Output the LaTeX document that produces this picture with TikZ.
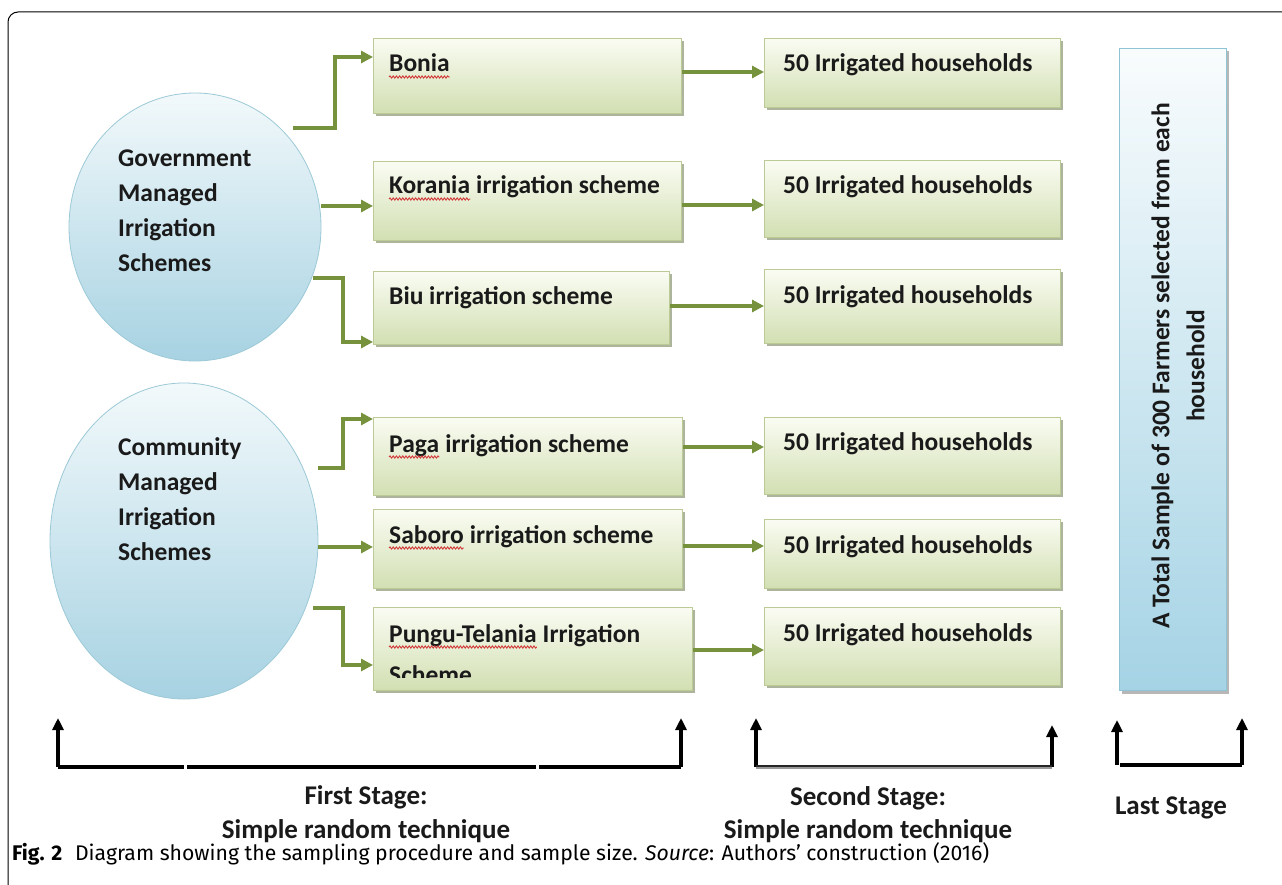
\documentclass[tikz,border=0pt]{standalone}
\usepackage{fontspec}
\setmainfont{Carlito}
\newfontfamily\capfont{Fira Sans}
\usetikzlibrary{arrows.meta,decorations.pathmorphing,shadows,shapes.geometric}
\definecolor{boxtop}{HTML}{FAFCF3}
\definecolor{boxbot}{HTML}{D2DFB2}
\definecolor{boxdraw}{HTML}{BCCB95}
\definecolor{boxshadow}{HTML}{9EA98A}
\definecolor{elltop}{HTML}{F2F9FB}
\definecolor{ellbot}{HTML}{A7D2E2}
\definecolor{elldraw}{HTML}{9CC9D7}
\definecolor{talltop}{HTML}{F9FCFD}
\definecolor{tallbot}{HTML}{A5D3E5}
\definecolor{talldraw}{HTML}{8FC4D5}
\definecolor{garr}{HTML}{76923C}
\definecolor{txt}{HTML}{1A1A1A}
\definecolor{squig}{HTML}{D23A3A}
\begin{document}
\begin{tikzpicture}[x=1pt,y=-1pt,
  gbox/.style={draw=boxdraw, line width=0.8pt, top color=boxtop, bottom color=boxbot,
    inner sep=0, anchor=north west,
    drop shadow={shadow xshift=2.5pt, shadow yshift=-3pt, fill=boxshadow, opacity=0.85}},
  ell/.style={ellipse, draw=elldraw, line width=0.8pt, top color=elltop, bottom color=ellbot, inner sep=0},
  tbox/.style={draw=talldraw, line width=1pt, top color=talltop, bottom color=tallbot,
    inner sep=0, anchor=north west,
    drop shadow={shadow xshift=2.5pt, shadow yshift=-3pt, fill=gray!70, opacity=0.8}},
  btext/.style={font=\fontsize{25.5}{30}\selectfont\bfseries, text=txt, inner sep=0, anchor=base west},
  stext/.style={font=\fontsize{27}{32}\selectfont\bfseries, text=txt, inner sep=0, anchor=base},
  garrow/.style={draw=garr, line width=3.4pt, -{Triangle[length=12pt,width=12pt]}},
  barrow/.style={draw=black, line width=3.4pt, -{Triangle[length=12pt,width=11pt]}},
  bline/.style={draw=black, line width=3.4pt},
  wavy/.style={draw=squig, line width=0.9pt, decorate, decoration={snake, amplitude=1.1pt, segment length=3.2pt}}
]
\useasboundingbox (0,0) rectangle (1282,885);
\fill[white] (0,0) rectangle (1282,885);
% frame
\draw[line width=1pt, rounded corners=10pt] (8,885) -- (8,12) -- (1282,12);

% ellipses
\node[ell, minimum width=252pt, minimum height=268pt] (gov) at (195,227) {};
\node[ell, minimum width=268pt, minimum height=316pt] (com) at (184,541) {};
\node[btext] (g1) at (118,167) {Government};
\node[btext] (g2) at (118,202) {Managed};
\node[btext] (g3) at (118,237) {Irrigation};
\node[btext] (g4) at (118,272) {Schemes};
\node[btext] (c1) at (118,455) {Community};
\node[btext] (c2) at (118,490) {Managed};
\node[btext] (c3) at (118,525) {Irrigation};
\node[btext] (c4) at (118,560) {Schemes};

% first-stage boxes
\node[gbox, minimum width=308pt, minimum height=75pt] (A1) at (373,38) {};
\node[gbox, minimum width=308pt, minimum height=79pt] (A2) at (373,161) {};
\node[gbox, minimum width=296pt, minimum height=73pt] (A3) at (373,271) {};
\node[gbox, minimum width=309pt, minimum height=78pt] (A4) at (373,417) {};
\node[gbox, minimum width=309pt, minimum height=79pt] (A5) at (373,509) {};
\node[gbox, minimum width=319pt, minimum height=83pt] (A6) at (373,607) {};

% second-stage boxes
\node[gbox, minimum width=296pt, minimum height=69pt] (B1) at (764,38) {};
\node[gbox, minimum width=296pt, minimum height=77pt] (B2) at (764,160) {};
\node[gbox, minimum width=296pt, minimum height=74pt] (B3) at (764,269) {};
\node[gbox, minimum width=296pt, minimum height=77pt] (B4) at (764,417) {};
\node[gbox, minimum width=296pt, minimum height=69pt] (B5) at (764,519) {};
\node[gbox, minimum width=296pt, minimum height=78pt] (B6) at (764,607) {};

% last-stage box
\node[tbox, minimum width=107pt, minimum height=642pt] (T) at (1119,48) {};
\node[font=\fontsize{25.5}{35}\selectfont\bfseries, text=txt, align=center, rotate=90, inner sep=0] (tt) at (1178,366)
  {A Total Sample of 300 Farmers selected from each\\household};

% first-stage texts
\node[btext] (t1) at (389,72) {Bonia};
\node[btext] (t2a) at (389,194) {Korania};
\node[btext] (t2b) at (t2a.base east) {\ irrigation scheme};
\node[btext] (t3) at (389,305) {Biu irrigation scheme};
\node[btext] (t4a) at (389,452) {Paga};
\node[btext] (t4b) at (t4a.base east) {\ irrigation scheme};
\node[btext] (t5a) at (389,543) {Saboro};
\node[btext] (t5b) at (t5a.base east) {\ irrigation scheme};
\node[btext] (t6a) at (389,642) {Pungu-Telania};
\node[btext] (t6b) at (t6a.base east) {\ Irrigation};
\begin{scope}
\clip (373,650) rectangle (692,677);
\node[btext] (t6c) at (389,683) {Scheme};
\end{scope}
\draw[wavy] ([yshift=-5pt]t1.base west) -- ([yshift=-5pt]t1.base east);
\draw[wavy] ([yshift=-5pt]t2a.base west) -- ([yshift=-5pt]t2a.base east);
\draw[wavy] ([yshift=-5pt]t4a.base west) -- ([yshift=-5pt]t4a.base east);
\draw[wavy] ([yshift=-5pt]t5a.base west) -- ([yshift=-5pt]t5a.base east);
\draw[wavy] ([yshift=-5pt]t6a.base west) -- ([yshift=-5pt]t6a.base east);

% second-stage texts
\node[btext] (u1) at (783,72) {50 Irrigated households};
\node[btext] (u2) at (783,194) {50 Irrigated households};
\node[btext] (u3) at (783,303) {50 Irrigated households};
\node[btext] (u4) at (783,450) {50 Irrigated households};
\node[btext] (u5) at (783,553) {50 Irrigated households};
\node[btext] (u6) at (783,641) {50 Irrigated households};

% green connectors from ellipses
\coordinate (s1) at (293,128);
\coordinate (s3) at (313,278);
\coordinate (s4) at (318,468);
\coordinate (s6) at (313,608);
\draw[garrow] (s1) -| (335,57) -- (A1.west |- 0,57);
\draw[garrow] (gov.east |- 0,206) -- (A2.west |- 0,206);
\draw[garrow] (s3) -| (343,342) -- (A3.west |- 0,342);
\draw[garrow] (s4) -| (343,419) -- (A4.west |- 0,419);
\draw[garrow] (com.east |- 0,547) -- (A5.west |- 0,547);
\draw[garrow] (s6) -| (343,665) -- (A6.west |- 0,665);

% green connectors between stages
\draw[garrow] (A1.east |- 0,72) -- (B1.west |- 0,72);
\draw[garrow] (A2.east |- 0,205) -- (B2.west |- 0,205);
\draw[garrow] (A3.east |- 0,306) -- (B3.west |- 0,306);
\draw[garrow] (A4.east |- 0,447) -- (B4.west |- 0,447);
\draw[garrow] (A5.east |- 0,546) -- (B5.west |- 0,546);
\draw[garrow] (A6.east |- 0,650) -- (B6.west |- 0,650);

% bottom stage brackets
\coordinate (f1) at (58,767);   \coordinate (f1t) at (58,718);
\coordinate (f2) at (681,767);  \coordinate (f2t) at (681,718);
\coordinate (s2a) at (756,767); \coordinate (s2at) at (756,718);
\coordinate (s2b) at (1052,767);\coordinate (s2bt) at (1052,725);
\coordinate (l1) at (1117,765); \coordinate (l1t) at (1117,720);
\coordinate (l2) at (1242,765); \coordinate (l2t) at (1242,718);
\draw[barrow] (f1) -- (f1t);
\draw[barrow] (f2) -- (f2t);
\draw[bline] (f1) -- (184,767);
\draw[bline] (187,767) -- (536,767);
\draw[bline] (539,767) -- (f2);
\draw[barrow] (s2a) -- (s2at);
\draw[barrow] (s2b) -- (s2bt);
\draw[draw=black!40, line width=3.6pt] (s2a) -- (s2b);
\draw[draw=black!85, line width=1.4pt] ([yshift=0.9pt]s2a) -- ([yshift=0.9pt]s2b);
\draw[barrow] (l1) -- (l1t);
\draw[barrow] (l2) -- (l2t);
\draw[bline] (1120,765) -- (l2);

\node[stext] (fs1) at (366,804) {First Stage:};
\node[stext] (fs2) at (366,838) {Simple random technique};
\node[stext] (ss1) at (868,805) {Second Stage:};
\node[stext] (ss2) at (868,838) {Simple random technique};
\node[stext] (ls) at (1171,814) {Last Stage};

% caption
\node[anchor=base west, inner sep=0, font=\capfont\fontsize{21.2}{24}\selectfont] (cap) at (12,860)
  {\textbf{Fig. 2}\hspace{0.6em}Diagram showing the sampling procedure and sample size. \textit{Source}: Authors’ construction (2016)};
\end{tikzpicture}
\end{document}
